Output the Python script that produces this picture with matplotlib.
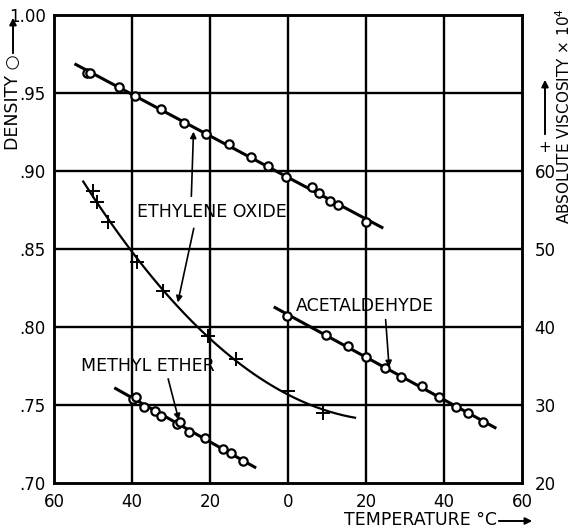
import numpy as np
import matplotlib
matplotlib.use("Agg")
import matplotlib.pyplot as plt

plt.rcParams['font.family'] = ['DejaVu Sans']

# Ethylene oxide density (circles)
eo_dens_t = [-51.5, -50.8, -43.3, -39.2, -32.6, -26.7, -21.0, -15.1, -9.5, -5.1, -0.5, 6.2, 8.0, 10.8, 12.9, 20.0]
eo_dens_v = [0.963, 0.963, 0.954, 0.948, 0.940, 0.931, 0.924, 0.917, 0.909, 0.903, 0.896, 0.890, 0.886, 0.881, 0.878, 0.867]
eo_dens_range = [-54.4, 24.1]

# Ethylene oxide viscosity x 10^4 (plus)
eo_visc_t = [-50.0, -49.0, -46.2, -38.7, -32.1, -20.5, -13.3, 0.0, 9.0]
eo_visc_v = [57.4, 56.0, 53.5, 48.3, 44.6, 38.8, 35.9, 31.8, 29.0]
eo_visc_range = [-52.5, 17.2]

# Acetaldehyde density (circles)
ac_dens_t = [-0.2, 9.7, 15.3, 20.0, 24.9, 29.0, 34.3, 38.8, 43.0, 46.1, 50.1]
ac_dens_v = [0.807, 0.795, 0.788, 0.781, 0.774, 0.768, 0.762, 0.755, 0.749, 0.745, 0.739]
ac_dens_range = [-3.3, 53.1]

# Methyl ether density (circles)
me_dens_t = [-39.7, -39.0, -36.8, -34.1, -32.6, -28.5, -27.8, -25.3, -21.3, -16.7, -14.7, -11.6]
me_dens_v = [0.754, 0.755, 0.749, 0.746, 0.743, 0.738, 0.739, 0.733, 0.729, 0.722, 0.719, 0.714]
me_dens_range = [-44.2, -8.5]

x_ticks = [-60, -40, -20, 0, 20, 40, 60]
x_tick_labels = ['60', '40', '20', '0', '20', '40', '60']
y_ticks = [0.70, 0.75, 0.80, 0.85, 0.90, 0.95, 1.00]
y_tick_labels = ['.70', '.75', '.80', '.85', '.90', '.95', '1.00']
y2_ticks = [20, 30, 40, 50, 60]
y2_tick_labels = ['20', '30', '40', '50', '60']

W, H = 572, 531
fig = plt.figure(figsize=(W / 100, H / 100), dpi=100)
ax = fig.add_axes([0.0944, 0.0904, 0.818, 0.8814])
ax2 = ax.twinx()

ax.set_xlim(-60, 60)
ax.set_ylim(0.70, 1.00)
ax2.set_ylim(20, 80)

for v in x_ticks[1:-1]:
    ax.axvline(v, color='black', lw=1.7, zorder=1)
for v in y_ticks[1:-1]:
    ax.axhline(v, color='black', lw=1.7, zorder=1)

for s in ax.spines.values():
    s.set_linewidth(1.8)
for s in ax2.spines.values():
    s.set_linewidth(1.8)

def line_fit(t, v, rng, deg):
    c = np.polyfit(t, v, deg)
    xs = np.linspace(rng[0], rng[1], 200)
    return xs, np.polyval(c, xs)

mk = dict(marker='o', ms=6, mfc='white', mec='black', mew=1.6, ls='none', zorder=4)

xs, ys = line_fit(eo_dens_t, eo_dens_v, eo_dens_range, 1)
ax.plot(xs, ys, color='black', lw=2.2, zorder=3)
ax.plot(eo_dens_t, eo_dens_v, **mk)

xs, ys = line_fit(ac_dens_t, ac_dens_v, ac_dens_range, 1)
ax.plot(xs, ys, color='black', lw=2.2, zorder=3)
ax.plot(ac_dens_t, ac_dens_v, **mk)

xs, ys = line_fit(me_dens_t, me_dens_v, me_dens_range, 1)
ax.plot(xs, ys, color='black', lw=2.2, zorder=3)
ax.plot(me_dens_t, me_dens_v, **mk)

xs, ys = line_fit(eo_visc_t, eo_visc_v, eo_visc_range, 2)
ax2.plot(xs, ys, color='black', lw=1.6, zorder=3)
ax2.plot(eo_visc_t, eo_visc_v, marker='+', ms=10, mew=1.4, color='black', ls='none', zorder=4)

ax.set_xticks(x_ticks)
ax.set_xticklabels(x_tick_labels, fontsize=12)
ax.set_yticks(y_ticks)
ax.set_yticklabels(y_tick_labels, fontsize=12)
ax2.set_yticks(y2_ticks)
ax2.set_yticklabels(y2_tick_labels, fontsize=12)
ax.tick_params(axis='x', length=0, pad=7)
ax.tick_params(axis='y', length=0, pad=6)
ax2.tick_params(length=0, pad=9)

# annotations
arr = dict(arrowstyle='-|>', color='black', lw=1.2, mutation_scale=9)
ax.text(-19.5, 0.874, 'ETHYLENE OXIDE', fontsize=12.5, ha='center', va='center')
ax.annotate('', xy=(-24.2, 0.927), xytext=(-24.8, 0.882), arrowprops=arr)
ax.annotate('', xy=(-28.4, 0.814), xytext=(-24.0, 0.865), arrowprops=arr)
ax.text(-36.0, 0.775, 'METHYL ETHER', fontsize=12.5, ha='center', va='center')
ax.annotate('', xy=(-27.8, 0.7385), xytext=(-30.9, 0.7685), arrowprops=arr)
ax.text(19.8, 0.8135, 'ACETALDEHYDE', fontsize=12.5, ha='center', va='center')
ax.annotate('', xy=(26.0, 0.7725), xytext=(25.0, 0.8065), arrowprops=arr)

def fx(px):
    return px / W

def fy(py):
    return 1 - py / H

lab_arr = dict(arrowstyle='-|>', color='black', lw=1.4, mutation_scale=10)

# left axis label
fig.text(fx(13), fy(102), 'DENSITY \u25cb', rotation=90, fontsize=12.5, ha='center', va='center')
fig.add_artist(plt.Annotation('', xy=(fx(13), fy(15)), xytext=(fx(13), fy(56)),
                              xycoords='figure fraction', arrowprops=lab_arr))

# right axis label
fig.text(fx(564), fy(116), 'ABSOLUTE VISCOSITY \u00d7 10$^4$', rotation=90, fontsize=11,
         ha='center', va='center')
fig.text(fx(545), fy(147), '+', fontsize=11, ha='center', va='center')
fig.add_artist(plt.Annotation('', xy=(fx(545), fy(77)), xytext=(fx(545), fy(137)),
                              xycoords='figure fraction', arrowprops=lab_arr))

# bottom axis label
fig.text(fx(420), fy(520), 'TEMPERATURE \u00b0C', fontsize=12.5, ha='center', va='center')
fig.add_artist(plt.Annotation('', xy=(fx(535), fy(521)), xytext=(fx(496), fy(521)),
                              xycoords='figure fraction', arrowprops=lab_arr))

fig.savefig('out.png', dpi=100)
